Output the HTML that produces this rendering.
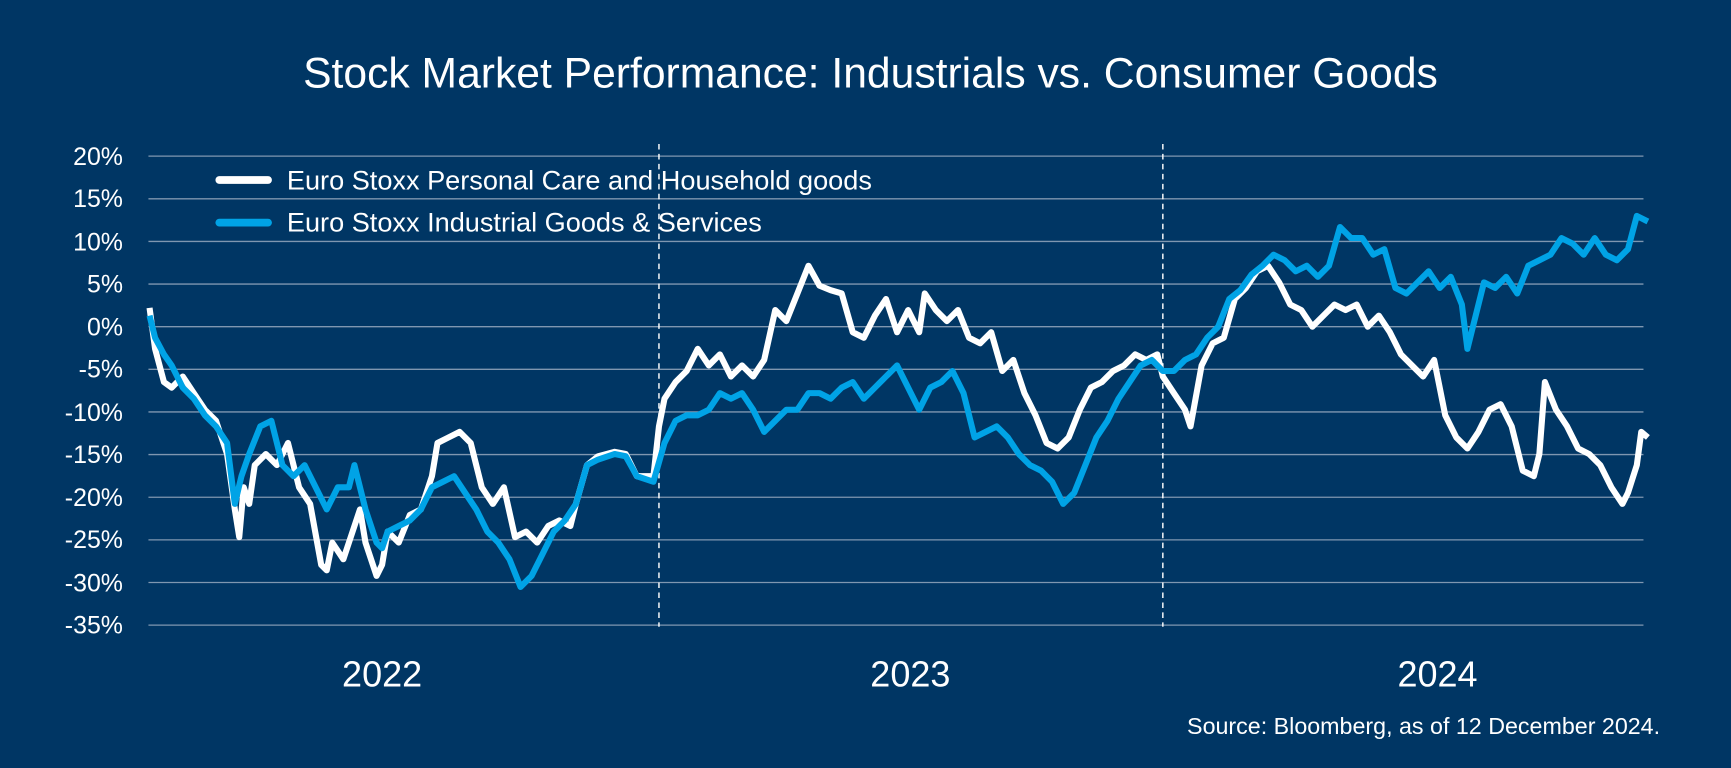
<!DOCTYPE html>
<html><head><meta charset="utf-8"><style>
html,body{margin:0;padding:0;background:#003664;}
svg{display:block}
text{font-family:"Liberation Sans",sans-serif;fill:#fff}
</style></head><body>
<svg width="1731" height="768" viewBox="0 0 1563 693.5" xmlns="http://www.w3.org/2000/svg">
<rect width="1563" height="694" fill="#003664"/>
<text x="786" y="79" font-size="38.5" text-anchor="middle">Stock Market Performance: Industrials vs. Consumer Goods</text>
<g stroke="#7f97b0" stroke-width="1.2">
<line x1="134" x2="1484" y1="141" y2="141"/><line x1="134" x2="1484" y1="179.5" y2="179.5"/>
<line x1="134" x2="1484" y1="218" y2="218"/><line x1="134" x2="1484" y1="256.5" y2="256.5"/>
<line x1="134" x2="1484" y1="295" y2="295"/><line x1="134" x2="1484" y1="333.5" y2="333.5"/>
<line x1="134" x2="1484" y1="372" y2="372"/><line x1="134" x2="1484" y1="410.5" y2="410.5"/>
<line x1="134" x2="1484" y1="449" y2="449"/><line x1="134" x2="1484" y1="487.5" y2="487.5"/>
<line x1="134" x2="1484" y1="526" y2="526"/><line x1="134" x2="1484" y1="564.5" y2="564.5"/>
</g>
<g font-size="22.5" text-anchor="end">
<text x="111" y="149">20%</text><text x="111" y="187">15%</text><text x="111" y="226">10%</text>
<text x="111" y="264">5%</text><text x="111" y="303">0%</text><text x="111" y="341">-5%</text>
<text x="111" y="380">-10%</text><text x="111" y="418">-15%</text><text x="111" y="457">-20%</text>
<text x="111" y="495">-25%</text><text x="111" y="534">-30%</text><text x="111" y="572">-35%</text>
</g>
<g stroke="#fff" stroke-width="1.3" stroke-dasharray="5,4">
<line x1="595" x2="595" y1="130" y2="566"/><line x1="1050" x2="1050" y1="130" y2="566"/>
</g>
<polyline fill="none" stroke="#fff" stroke-width="5.5" stroke-linejoin="round" points="135,278 140,315 148,345 155,350 165,340 175,355 185,370 195,380 205,410 212,460 216,485 220,440 225,455 230,420 240,410 250,420 260,400 270,440 280,455 290,510 295,515 300,490 310,505 320,475 325,460 330,490 340,520 345,510 350,480 360,490 370,465 380,460 390,430 395,400 405,395 415,390 425,400 435,440 445,455 455,440 465,485 475,480 485,490 495,475 505,470 515,475 520,455 530,420 540,412 555,408 565,410 575,430 590,430 595,385 600,360 610,345 620,335 630,315 640,330 650,320 660,340 670,330 680,340 690,325 700,280 710,290 720,265 730,240 740,258 750,262 760,265 770,300 780,305 790,285 800,270 810,300 820,280 830,300 835,265 845,280 855,290 865,280 875,305 885,310 895,300 905,335 915,325 925,355 935,375 945,400 955,405 965,395 975,370 985,350 995,345 1005,335 1015,330 1025,320 1035,325 1045,320 1050,340 1060,355 1070,370 1075,385 1085,330 1095,310 1105,305 1115,270 1125,260 1135,245 1145,240 1155,255 1165,275 1175,280 1185,295 1195,285 1205,275 1215,280 1225,275 1235,295 1245,285 1255,300 1265,320 1275,330 1285,340 1295,325 1305,375 1315,395 1325,405 1335,390 1345,370 1355,365 1365,385 1375,425 1385,430 1390,410 1395,345 1405,370 1415,385 1425,405 1435,410 1445,420 1455,440 1465,455 1470,445 1478,420 1482,390 1488,395"/>
<polyline fill="none" stroke="#00a3e6" stroke-width="5.5" stroke-linejoin="round" points="135,285 140,305 148,320 155,330 165,350 175,360 185,375 195,385 205,400 212,455 218,430 225,410 235,385 245,380 255,420 265,430 275,420 285,440 295,460 305,440 315,440 320,420 330,460 340,490 345,495 350,480 360,475 370,470 380,460 390,440 400,435 410,430 420,445 430,460 440,480 450,490 460,505 470,530 480,520 490,500 500,480 510,470 520,455 530,420 540,415 555,410 565,412 575,430 590,435 600,400 610,380 620,375 630,375 640,370 650,355 660,360 670,355 680,370 690,390 700,380 710,370 720,370 730,355 740,355 750,360 760,350 770,345 780,360 790,350 800,340 810,330 820,350 830,370 840,350 850,345 860,335 870,355 880,395 890,390 900,385 910,395 920,410 930,420 940,425 950,435 960,455 970,445 980,420 990,395 1000,380 1010,360 1020,345 1030,330 1040,325 1050,335 1060,335 1070,325 1080,320 1090,305 1100,295 1110,270 1120,262 1130,248 1140,240 1150,230 1160,235 1170,245 1180,240 1190,250 1200,240 1210,205 1220,215 1230,215 1240,230 1250,225 1260,260 1270,265 1280,255 1290,245 1300,260 1310,250 1320,275 1325,315 1330,295 1340,255 1350,260 1360,250 1370,265 1380,240 1390,235 1400,230 1410,215 1420,220 1430,230 1440,215 1450,230 1460,235 1470,225 1478,195 1488,200"/>
<line x1="198" x2="242" y1="162.5" y2="162.5" stroke="#fff" stroke-width="7" stroke-linecap="round"/>
<line x1="198" x2="242" y1="201" y2="201" stroke="#00a3e6" stroke-width="7" stroke-linecap="round"/>
<text x="259" y="171" font-size="24.5">Euro Stoxx Personal Care and Household goods</text>
<text x="259" y="209" font-size="24.5">Euro Stoxx Industrial Goods &amp; Services</text>
<g font-size="32.5" text-anchor="middle">
<text x="345" y="620">2022</text><text x="822" y="620">2023</text><text x="1298" y="620">2024</text>
</g>
<text x="1499" y="663" font-size="21" text-anchor="end">Source: Bloomberg, as of 12 December 2024.</text>
</svg>
</body></html>
